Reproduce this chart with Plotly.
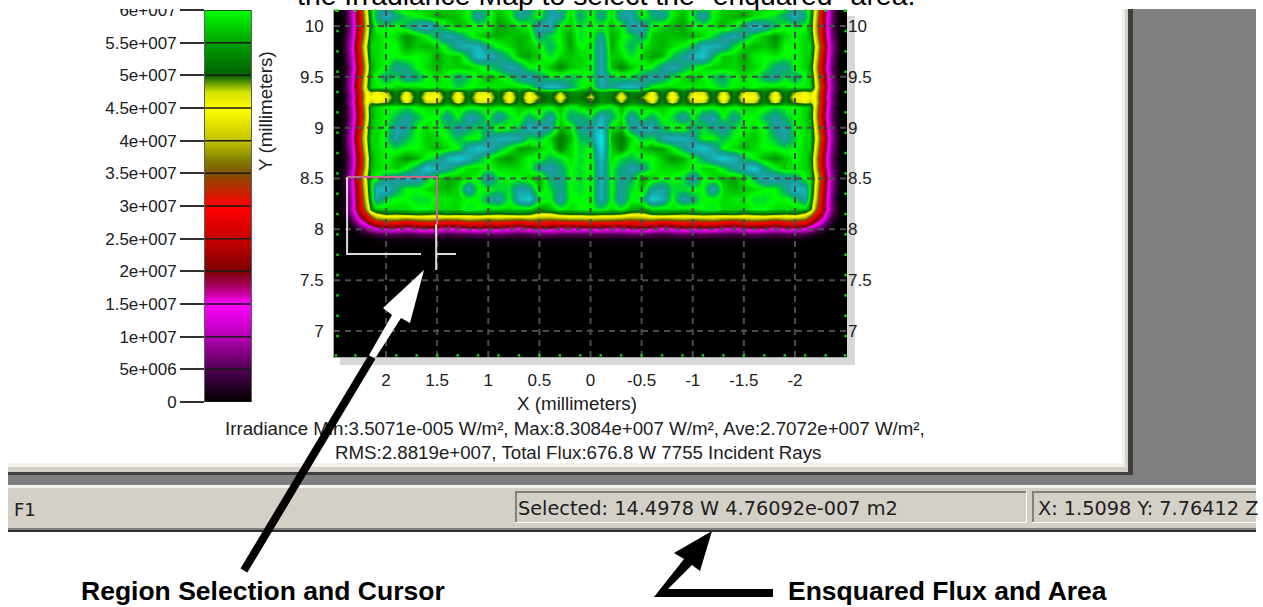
import plotly.graph_objects as go

W, H = 1263, 607

# Irradiance (units of 1e6 W/m2). Columns run outward from X = 0 towards negative X;
# the positive-X side repeats them, apart from the column at X = +0.1 (left_col), which differs in the picture.
x_half = [0.0, 0.1, 0.2, 0.3, 0.4, 0.5, 0.6, 0.7, 0.8, 0.9, 1.0, 1.1, 1.2, 1.3, 1.4, 1.5, 1.6, 1.7, 1.8, 1.9, 2.0, 2.1,
          2.15, 2.2, 2.25, 2.3, 2.35, 2.4, 2.45, 2.5]
y_rows = [10.2, 10.1, 10.0, 9.9, 9.8, 9.7, 9.6, 9.5, 9.4, 9.35, 9.3, 9.25, 9.2, 9.1, 9.0, 8.9, 8.8, 8.7, 8.6, 8.5,
          8.4, 8.3, 8.2, 8.15, 8.1, 8.05, 8.0, 7.95, 7.9, 7.85, 6.75]
z_half = [
 [58,68,58,68,68,58,68,70,60,57,60,66,60,57,58,58,58,57,56,60,66,64, 57,45,30,18,9,3,0,0],
 [59,68,58,69,70,59,65,68,59,56,62,70,60,57,56,55,58,60,62,66,72,66, 56,43,28,17,8,2,0,0],
 [60,60,57,59,71,71,60,58,56,55,60,60,58,56,60,66,74,70,64,60,62,60, 54,41,27,16,7,2,0,0],
 [59,68,55,59,62,67,57,56,57,56,56,58,62,68,71,66,60,57,54,58,60,58, 56,43,29,17,8,3,0,0],
 [59,71,55,60,65,59,57,56,58,60,64,72,72,70,62,58,56,57,55,60,60,58, 58,47,33,20,10,4,0,0],
 [59,71,57,58,62,58,55,56,63,68,72,75,64,57,58,55,59,60,59,60,60,58, 57,45,30,18,9,3,0,0],
 [59,71,57,53,57,60,60,68,71,66,62,59,57,57,58,56,58,60,66,68,60,58, 55,42,27,16,7,2,0,0],
 [60,72,64,62,62,66,71,68,62,58,56,59,63,66,60,58,60,66,68,62,66,60, 57,45,30,18,9,3,0,0],
 [58,70,66,72,74,68,60,58,58,59,59,59,60,63,59,59,60,58,58,58,60,59, 58,47,33,20,10,4,0,0],
 [50,54,53,48,53,52,46,53,46,53,47,47,53,46,53,47,47,53,46,53,48,46, 48,45,30,18,9,3,0,0],
 [47,54,52,45,52,49,44,52,44,52,45,45,52,44,52,45,45,52,44,52,46,44, 46,44,29,17,8,2,0,0],
 [50,54,53,48,53,52,46,53,46,53,47,47,53,46,53,47,47,53,46,53,48,46, 48,45,30,18,9,3,0,0],
 [56,60,62,56,60,58,57,57,59,59,58,60,60,58,60,58,58,59,62,60,60,58, 56,43,28,17,8,2,0,0],
 [62,72,66,58,70,60,66,59,62,70,60,68,70,60,68,60,60,64,69,64,60,58, 55,42,27,16,7,2,0,0],
 [68,76,58,56,68,72,72,64,60,58,66,62,66,70,62,60,58,60,68,70,60,58, 57,45,30,18,9,3,0,0],
 [66,80,56,52,58,64,62,70,72,72,68,60,60,64,60,58,57,60,64,70,62,58, 58,47,33,20,10,4,0,0],
 [60,78,58,52,60,57,55,55,60,66,72,75,70,60,58,56,58,60,60,62,60,58, 57,45,30,18,9,3,0,0],
 [59,74,58,62,64,60,60,57,54,56,60,66,72,76,72,64,60,56,54,57,60,58, 55,42,27,16,7,2,0,0],
 [59,72,60,66,70,68,60,58,58,58,60,58,58,62,68,72,76,66,60,57,59,58, 56,43,28,17,8,3,0,0],
 [59,72,60,68,66,54,58,60,60,62,72,60,58,56,55,58,64,72,72,68,66,60, 58,47,33,20,10,4,0,0],
 [59,72,60,68,62,57,68,70,62,62,60,60,72,58,56,57,58,60,60,66,74,72, 58,45,30,18,9,3,0,0],
 [59,72,60,70,60,62,76,72,60,70,66,60,60,58,59,59,62,62,60,60,62,70, 56,43,28,17,8,2,0,0],
 [60,62,58,60,56,54,58,58,58,58,58,60,62,58,58,58,60,60,58,58,58,57, 52,38,27,17,8,3,0,0],
 [51,50,50,49,46,46,50,51,50,49,50,51,50,50,51,49,50,51,50,49,50,46, 40,30,22,13,6,2,0,0],
 [39,38,38,37,36,37,38,36,37,38,37,38,39,37,36,38,39,38,36,38,38,36, 30,23,16,9,4,1,0,0],
 [27,26,26,25,26,27,26,24,25,27,26,27,27,25,24,26,27,26,24,26,27,24, 20,15,10,5,2,0,0,0],
 [15,15,14,14,16,16,15,13,14,16,15,16,15,14,13,15,16,15,13,15,15,13, 11,7,4,2,0,0,0,0],
 [5,5,5,5,6,6,5,4,5,6,5,6,5,5,4,5,6,5,4,5,5,4, 3,2,1,0,0,0,0,0],
 [1,1,1,1,1,1,1,1,1,1,1,1,1,1,1,1,1,1,1,1,1,1, 0,0,0,0,0,0,0,0],
 [0]*30,
 [0]*30,
]
left_col = [66, 66, 62, 62, 60, 58, 58, 62, 60, 54, 52, 54, 58, 66, 68, 64, 62, 62, 62, 62, 62, 60, 60, 50, 38, 26, 15,
            5, 1, 0, 0]

# Colour ramp (level in 1e6 W/m2, colour)
ramp_levels = [0, 5, 10, 15, 17.5, 20, 25, 30, 35, 37, 40, 45, 47.5, 50, 55, 60, 64, 68, 75, 83]
ramp_colors = ["#000000", "#500050", "#b400b4", "#ff00ff", "#b00070", "#7a0000", "#c80000", "#ff0000", "#7f5000",
               "#808000", "#c0c000", "#ffff00", "#d0e000", "#006000", "#00a000", "#00ff00", "#00b858", "#1a9a9a",
               "#10c8c8", "#00ffff"]
z_max = 83

x_ticks = [2, 1.5, 1, 0.5, 0, -0.5, -1, -1.5, -2]
x_tick_text = ["2", "1.5", "1", "0.5", "0", "-0.5", "-1", "-1.5", "-2"]
y_ticks = [10, 9.5, 9, 8.5, 8, 7.5, 7]
y_tick_text = ["10", "9.5", "9", "8.5", "8", "7.5", "7"]
bar_ticks = [0, 5, 10, 15, 20, 25, 30, 35, 40, 45, 50, 55, 60]
bar_tick_text = ["0", "5e+006", "1e+007", "1.5e+007", "2e+007", "2.5e+007", "3e+007", "3.5e+007", "4e+007",
                 "4.5e+007", "5e+007", "5.5e+007", "6e+007"]

# Green dots on the plot frame
frame_x = [2.49, 2.3, 2.1, 1.9, 1.7, 1.5, 1.3, 1.1, 0.9, 0.7, 0.5, 0.3, 0.1, -0.1, -0.3, -0.5, -0.7, -0.9, -1.1, -1.3,
           -1.5, -1.7, -1.9, -2.1, -2.3, -2.49]
frame_y = [6.95, 7.15, 7.35, 7.55, 7.75, 7.95, 8.15, 8.35, 8.55, 8.75, 8.95, 9.15, 9.35, 9.55, 9.75, 9.95, 10.15]

# Selected region and cursor (status bar gives the cursor position)
sel_x = [2.381, 1.501]
sel_y = [8.515, 7.757]
cursor_x, cursor_y = 1.5098, 7.76412


def px(v):
    return v / W


def py(v):
    return 1 - v / H


def rect(x0, y0, x1, y1, color, layer="below"):
    return dict(type="rect", xref="paper", yref="paper", x0=px(x0), x1=px(x1), y0=py(y0), y1=py(y1),
                fillcolor=color, line_width=0, layer=layer)


def path(points, color, layer="above"):
    d = "M" + " L".join(f"{px(a):.5f},{py(b):.5f}" for a, b in points) + " Z"
    return dict(type="path", xref="paper", yref="paper", path=d, fillcolor=color, line_width=0, layer=layer)


x_full = [-v for v in x_half[:0:-1]] + x_half
z_full = []
for row, lc in zip(z_half, left_col):
    z_full.append(row[:1:-1] + [row[1]] + row[:1] + [lc] + row[2:])
# columns now run from X = -2.5 to X = +2.5
scale = [[lv / z_max, c] for lv, c in zip(ramp_levels, ramp_colors)]
TICK_FONT = dict(family="Liberation Sans", size=17, color="#202020")

fig = go.Figure()
fig.add_trace(go.Heatmap(x=x_full, y=y_rows, z=z_full, coloraxis="coloraxis", zsmooth="best",
                         xaxis="x", yaxis="y", hoverinfo="skip"))
fig.add_trace(go.Heatmap(x=[0, 1], y=bar_ticks, z=[[v, v] for v in bar_ticks], coloraxis="coloraxis", zsmooth="best",
                         xaxis="x2", yaxis="y2", hoverinfo="skip"))
# Lines across the legend strip
lx, ly = [], []
for v in bar_ticks:
    lx += [0, 1, None]
    ly += [v, v, None]
fig.add_trace(go.Scatter(x=lx, y=ly, mode="lines", line=dict(color="#1a1a1a", width=1.5), xaxis="x2", yaxis="y2",
                         hoverinfo="skip"))
# Grid drawn over the map
gx, gy = [], []
for v in x_ticks:
    gx += [v, v, None]
    gy += [6.744, 10.157, None]
for v in y_ticks:
    gx += [2.509, -2.509, None]
    gy += [v, v, None]
fig.add_trace(go.Scatter(x=gx, y=gy, mode="lines", line=dict(color="#4c4c4c", width=2, dash="6px,5px"),
                         xaxis="x", yaxis="y", hoverinfo="skip"))
# Selection rectangle and cursor
fig.add_trace(go.Scatter(x=[sel_x[0], sel_x[0], 1.658, None, cursor_x, cursor_x, None, cursor_x, 1.315],
                         y=[sel_y[0], sel_y[1], sel_y[1], None, 8.05, 7.60, None, sel_y[1], sel_y[1]],
                         mode="lines", line=dict(color="#dcdcdc", width=2), xaxis="x", yaxis="y", hoverinfo="skip"))
fig.add_trace(go.Scatter(x=[sel_x[0], 2.15, None, 2.15, sel_x[1], sel_x[1], sel_x[1]],
                         y=[sel_y[0], sel_y[0], None, sel_y[0], sel_y[0], 8.05, 8.05],
                         mode="lines", line=dict(color="#c86a90", width=2), xaxis="x", yaxis="y", hoverinfo="skip"))
# Frame dots
fig.add_trace(go.Scatter(x=frame_x + frame_x + [2.475] * len(frame_y) + [-2.495] * len(frame_y),
                         y=[6.76] * len(frame_x) + [10.15] * len(frame_x) + frame_y + frame_y,
                         mode="markers", marker=dict(color="#10d010", size=2.5, symbol="square"), cliponaxis=False,
                         xaxis="x", yaxis="y3", hoverinfo="skip"))

shapes = [
    rect(847, 16, 855, 365, "#d8d8d8"), rect(340, 357, 855, 365, "#d8d8d8"),
    # window frame
    rect(1122, 9, 1125, 467, "#f2f0ea"), rect(1125, 9, 1128, 472, "#d4d0c8"), rect(1128, 9, 1133, 475, "#404040"),
    rect(1133, 9, 1256, 486, "#808080"),
    rect(8, 463, 1125, 467, "#f2f0ea"), rect(8, 467, 1128, 472, "#d4d0c8"), rect(8, 472, 1133, 475, "#404040"),
    rect(8, 475, 1256, 485, "#808080"),
    # status bar
    rect(8, 485, 1256, 488, "#f6f4ee"), rect(8, 488, 1256, 528, "#d4d0c8"), rect(8, 528, 1256, 530, "#808080"),
    rect(8, 530, 1256, 532, "#303030"),
    rect(515, 491, 1027, 523, "#ffffff"), rect(515, 491, 1026, 522, "#808080"), rect(517, 493, 1026, 522, "#d4d0c8"),
    rect(1032, 491, 1256, 523, "#ffffff"), rect(1032, 491, 1256, 522, "#808080"), rect(1034, 493, 1256, 522, "#d4d0c8"),
    # arrows
    path([(424, 270), (383, 308), (392, 315), (368, 357), (376, 357), (401, 318), (410, 323)], "#ffffff"),
    path([(712, 531), (674, 553), (684, 559), (654, 597), (773, 597), (773, 589), (668, 589), (692, 565), (700, 571)],
         "#000000"),
    # window crop at the top
    rect(0, 0, W, 9, "#ffffff", "above"),
]


def text(x, y, s, size, family="Liberation Sans", bold=False, **kw):
    return dict(xref="paper", yref="paper", x=px(x), y=py(y), text=f"<b>{s}</b>" if bold else s, showarrow=False,
                font=dict(family=family, size=size, color=kw.pop("color", "#202020")), xanchor="center",
                yanchor="middle", **kw)


annotations = [
    text(606, -5, 'the Irradiance Map to select the "enquared" area.', 28.4, color="#000000"),
    text(266, 111, "Y (millimeters)", 18.8, textangle=-90),
    text(577, 403, "X (millimeters)", 18.8),
    text(575, 428, "Irradiance Min:3.5071e-005 W/m², Max:8.3084e+007 W/m², Ave:2.7072e+007 W/m²,", 18.7),
    text(578, 452, "RMS:2.8819e+007, Total Flux:676.8 W 7755 Incident Rays", 18.7),
    # black tail of the first arrow, over the caption text
    dict(xref="paper", yref="paper", x=px(372), y=py(357), text="", showarrow=True, arrowhead=0, arrowwidth=8,
         arrowcolor="#000000", axref="pixel", ayref="pixel", ax=243 - 372, ay=572 - 357, standoff=0),
    text(25, 509, "F1", 18, family="DejaVu Sans"),
    text(708, 508, "Selected: 14.4978 W 4.76092e-007 m2", 19.3, family="DejaVu Sans"),
    dict(text(1147, 508, "X: 1.5098 Y: 7.76412 Z", 19.3, family="DejaVu Sans"), xanchor="left", x=px(1036)),
    text(263, 591, "Region Selection and Cursor", 26.5, bold=True, color="#000000"),
    text(948, 591, "Ensquared Flux and Area", 26.5, bold=True, color="#000000"),
]

fig.update_layout(
    width=W, height=H, margin=dict(l=0, r=0, t=0, b=0, pad=0, autoexpand=False), autosize=False,
    paper_bgcolor="#ffffff", plot_bgcolor="#000000", showlegend=False,
    coloraxis=dict(colorscale=scale, cmin=0, cmax=z_max, showscale=False),
    xaxis=dict(domain=[px(334), px(847)], range=[2.509, -2.509], tickmode="array", tickvals=x_ticks,
               ticktext=x_tick_text, ticks="outside", ticklen=8, tickcolor="rgba(0,0,0,0)", showgrid=False,
               zeroline=False, showline=True, linecolor="#a8a8a8", linewidth=1, tickfont=TICK_FONT, anchor="y",
               tickangle=0),
    yaxis=dict(domain=[py(357), py(10)], range=[6.744, 10.157], tickmode="array", tickvals=y_ticks,
               ticktext=y_tick_text, ticks="outside", ticklen=6, tickcolor="rgba(0,0,0,0)", showgrid=False,
               zeroline=False, showline=True, linecolor="#a8a8a8", linewidth=1, tickfont=TICK_FONT, anchor="x"),
    yaxis3=dict(domain=[py(357), py(10)], range=[6.744, 10.157], tickmode="array", tickvals=y_ticks,
                ticktext=y_tick_text, ticks="", showgrid=False, zeroline=False, side="right", overlaying="y",
                anchor="x", tickfont=TICK_FONT),
    xaxis2=dict(domain=[px(205), px(251)], range=[0, 1], visible=False, anchor="y2"),
    yaxis2=dict(domain=[py(402), py(10)], range=[0, 60], tickmode="array", tickvals=bar_ticks,
                ticktext=bar_tick_text, ticks="outside", ticklen=24, tickwidth=2, tickcolor="#303030",
                showgrid=False, zeroline=False, showline=True, linecolor="#606060", linewidth=1, mirror=True,
                tickfont=TICK_FONT, anchor="x2", side="left"),
    shapes=shapes, annotations=annotations,
)
fig.write_html("out.html", config=dict(displayModeBar=False),
               post_script="document.body.style.margin='0';document.documentElement.style.overflow='hidden';")
